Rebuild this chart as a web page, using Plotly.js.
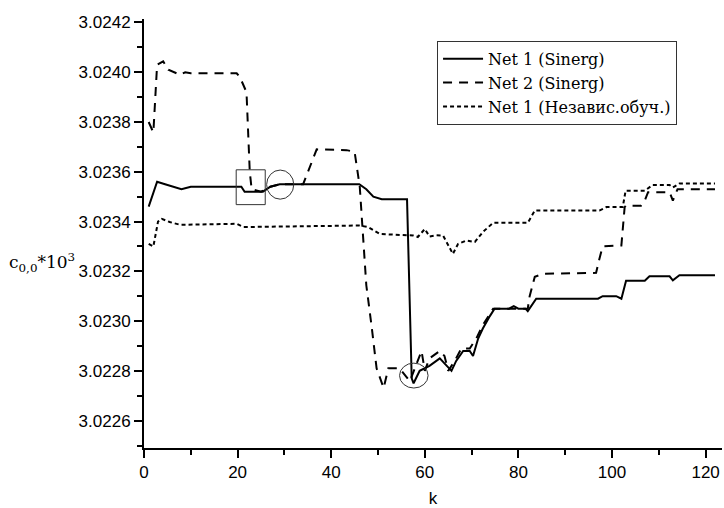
<!DOCTYPE html>
<html>
<head>
<meta charset="utf-8">
<script src="https://cdn.plot.ly/plotly-3.0.1.min.js"></script>
<style>html,body{margin:0;padding:0;background:#fff;}#chart{width:724px;height:508px;}</style>
</head>
<body>
<div id="chart"></div>
<script>
// Series names
const seriesNames = ["Net 1 (Sinerg)", "Net 2 (Sinerg)", "Net 1 (Независ.обуч.)"];

// Net 1 (Sinerg) - solid
const net1X = [1, 2.8, 4.5, 6.3, 8, 10, 20.8, 21.5, 25.4, 27, 29, 46, 47.5, 49, 50.8, 56.2, 57.2, 57.6, 58.9, 61, 63.2, 64.2, 65.7, 66.7, 68.2, 69.6, 70.3, 71.4, 72.4, 73.9, 74.9, 78, 79, 80, 81.5, 82, 83.8, 97, 98, 100.9, 102, 103, 107, 108, 112.3, 113, 114.4, 122];
const net1Y = [3.02346, 3.02356, 3.02355, 3.02354, 3.02353, 3.02354, 3.02354, 3.02352, 3.02352, 3.02354, 3.02355, 3.02355, 3.02353, 3.02350, 3.02349, 3.02349, 3.02277, 3.02275, 3.02280, 3.02282, 3.02285, 3.02283, 3.02280, 3.02284, 3.02288, 3.02288, 3.02286, 3.02293, 3.02297, 3.02302, 3.02305, 3.02305, 3.02306, 3.02305, 3.02305, 3.02304, 3.02309, 3.02309, 3.02310, 3.02310, 3.02309, 3.023162, 3.023162, 3.02318, 3.02318, 3.023164, 3.023184, 3.023184];

// Net 2 (Sinerg) - dashed
const net2X = [1, 2, 2.8, 4.1, 5.2, 7.7, 8.8, 10, 19.8, 20.5, 21.9, 22.6, 23, 25, 27, 29, 34, 36.9, 43.3, 45, 46.1, 46.8, 47.5, 48.6, 49.7, 51.2, 52.2, 54.6, 56.8, 59.3, 60, 61, 63.2, 64.2, 65, 66.4, 67.8, 69.6, 71, 72.4, 74.6, 80, 82, 82.4, 83.5, 85.2, 96.6, 97.3, 98, 102, 102.3, 102.7, 103, 106.2, 107, 107.7, 112.3, 113, 114, 122];
const net2Y = [3.02380, 3.023758, 3.02403, 3.024044, 3.02401, 3.02399, 3.02400, 3.023996, 3.023996, 3.02398, 3.02392, 3.02360, 3.02353, 3.02352, 3.02354, 3.02355, 3.02355, 3.02369, 3.023687, 3.02368, 3.02354, 3.02334, 3.023144, 3.022984, 3.02281, 3.022731, 3.02281, 3.02281, 3.022758, 3.02288, 3.0228, 3.02285, 3.02288, 3.02286, 3.0228, 3.02284, 3.02289, 3.02289, 3.02293, 3.022984, 3.02305, 3.02305, 3.02305, 3.02310, 3.023178, 3.02319, 3.023194, 3.02325, 3.02330, 3.023304, 3.02338, 3.023458, 3.023464, 3.023464, 3.023484, 3.023518, 3.023518, 3.023484, 3.02353, 3.02353];

// Net 1 (Независ.обуч.) - dotted
const net3X = [1, 2, 3, 3.8, 5.5, 7.7, 19.8, 21.2, 46, 47.9, 50.4, 57.5, 58.5, 60, 61, 62.5, 63.9, 66, 67.1, 68.9, 70.7, 72.4, 74.6, 82, 83.5, 97.3, 98.8, 102.3, 102.9, 107, 108.7, 112.3, 113, 114.4, 122];
const net3Y = [3.02331, 3.02330, 3.02340, 3.023411, 3.023398, 3.023387, 3.023391, 3.023378, 3.023384, 3.023378, 3.02335, 3.023344, 3.023338, 3.02337, 3.02334, 3.023345, 3.023344, 3.02327, 3.02331, 3.023324, 3.023318, 3.023358, 3.023395, 3.023395, 3.023444, 3.023444, 3.023458, 3.023458, 3.023524, 3.023524, 3.023547, 3.023547, 3.023537, 3.023553, 3.023553];

// Axis ticks
const xTickVals = [0, 20, 40, 60, 80, 100, 120];
const yTickVals = [3.0226, 3.0228, 3.0230, 3.0232, 3.0234, 3.0236, 3.0238, 3.0240, 3.0242];

const traces = [
  {x: net1X, y: net1Y, name: seriesNames[0], mode: "lines", line: {color: "#000", width: 2}},
  {x: net2X, y: net2Y, name: seriesNames[1], mode: "lines", line: {color: "#000", width: 2, dash: "9px,7px"}},
  {x: net3X, y: net3Y, name: seriesNames[2], mode: "lines", line: {color: "#000", width: 2, dash: "4px,3px"}}
];

const tickFont = {family: "Liberation Sans, Arial, sans-serif", size: 17, color: "#000"};

const layout = {
  width: 724, height: 508,
  margin: {l: 144, r: 2, t: 19, b: 60},
  paper_bgcolor: "#fff", plot_bgcolor: "#fff",
  showlegend: true,
  legend: {
    x: 0.507, y: 0.949, xanchor: "left", yanchor: "top",
    bordercolor: "#333", borderwidth: 1, bgcolor: "#fff",
    font: {family: "DejaVu Serif, serif", size: 16, color: "#000"},
    itemwidth: 40,
    tracegroupgap: 0
  },
  xaxis: {
    range: [0, 123.5], showgrid: false, zeroline: false,
    showline: true, linecolor: "#000", linewidth: 2,
    ticks: "outside", ticklen: 8, tickwidth: 2, tickcolor: "#000",
    tickvals: xTickVals, ticktext: xTickVals.map(String),
    minor: {dtick: 10, ticks: "outside", ticklen: 5, tickwidth: 2, tickcolor: "#000", showgrid: false},
    tickfont: tickFont,
    title: {text: "k", font: {family: "Liberation Sans, Arial, sans-serif", size: 17, color: "#000"}, standoff: 12}
  },
  yaxis: {
    range: [3.02249, 3.024214], showgrid: false, zeroline: false,
    showline: true, linecolor: "#000", linewidth: 2,
    ticks: "outside", ticklen: 8, tickwidth: 2, tickcolor: "#000",
    tickvals: yTickVals, ticktext: yTickVals.map(v => v.toFixed(4)),
    minor: {dtick: 0.0001, tick0: 3.0225, ticks: "outside", ticklen: 5, tickwidth: 2, tickcolor: "#000", showgrid: false},
    tickfont: tickFont
  },
  annotations: [{
    xref: "paper", yref: "paper", x: -0.176, y: 0.432, xanchor: "center", yanchor: "middle",
    showarrow: false,
    text: "c<sub>0,0</sub>*10<sup>3</sup>",
    font: {family: "DejaVu Serif, serif", size: 17, color: "#000"}
  }],
  shapes: [
    {type: "rect", xref: "x", yref: "y", x0: 19.7, x1: 25.9, y0: 3.023468, y1: 3.023608, line: {color: "#333", width: 1}},
    {type: "circle", xref: "x", yref: "y", x0: 26.2, x1: 32.0, y0: 3.02349, y1: 3.023607, line: {color: "#333", width: 1}},
    {type: "circle", xref: "x", yref: "y", x0: 54.6, x1: 60.7, y0: 3.022731, y1: 3.022831, line: {color: "#333", width: 1}}
  ]
};

Plotly.newPlot("chart", traces, layout, {displayModeBar: false, staticPlot: true});
</script>
</body>
</html>
